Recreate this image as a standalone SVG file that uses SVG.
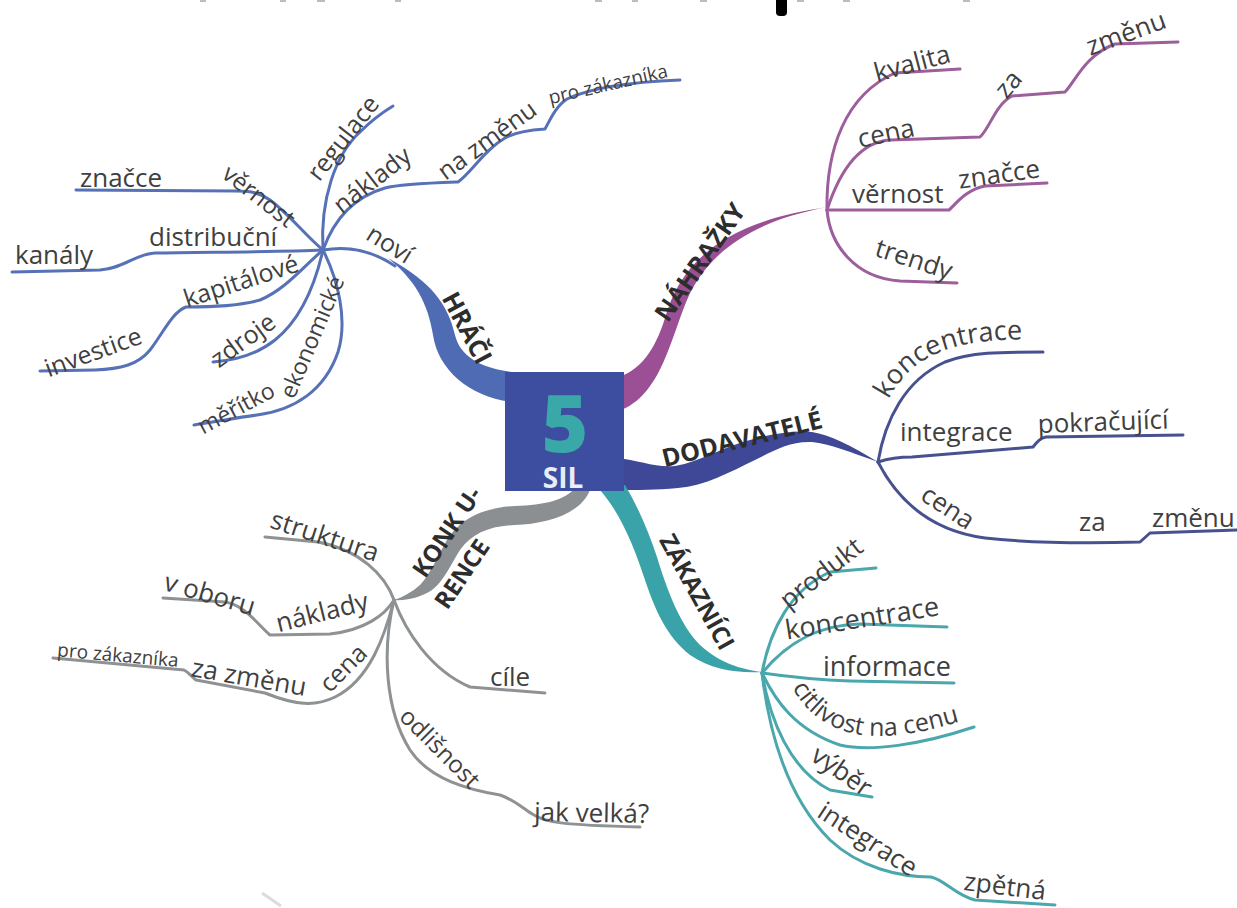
<svg xmlns="http://www.w3.org/2000/svg" width="1237" height="908" viewBox="0 0 1237 908">
<style>
.t{font-family:"Open Sans","Noto Sans","DejaVu Sans",sans-serif;font-size:26px;fill:#404040}
.s{font-size:19px}
.b{font-weight:700;fill:#2d2d2d;font-size:25px}
.c{text-anchor:middle}
.ln{fill:none;stroke-width:3;stroke-linecap:round;stroke-linejoin:round}
.bl{stroke:#5671b6}.pu{stroke:#9d5e9c}.nv{stroke:#48518f}.te{stroke:#4aa7ad}.gr{stroke:#8e9294}
</style>
<defs>
<path id="pk1" d="M886,405 C897,380 918,357 955,347 C980,340 1010,339 1050,339"/>
<path id="pc1" d="M791,686 C804,709 823,729 862,735 C896,739 930,731 975,717"/>
</defs>
<rect width="1237" height="908" fill="#ffffff"/>
<g id="title-remnant" fill="#bdbdbd">
<rect x="200" y="0" width="6" height="2"/><rect x="280" y="0" width="6" height="2"/><rect x="317" y="0" width="8" height="2"/><rect x="395" y="0" width="6" height="2"/><rect x="595" y="0" width="7" height="2"/><rect x="632" y="0" width="6" height="2"/><rect x="700" y="0" width="7" height="2"/><rect x="797" y="0" width="7" height="2"/><rect x="843" y="0" width="7" height="2"/><rect x="963" y="0" width="7" height="2"/>
<path d="M776,0 L787,0 L787,12 Q787,16 783,16 L780,16 Q776,16 776,12 Z" fill="#000"/>
</g>
<line x1="262" y1="893" x2="281" y2="906" stroke="#dcdcdc" stroke-width="3"/>
<g id="connectors">
<path fill="#4e6bb4" d="M512,372 C480,368 460,356 455,335 C448,305 432,282 388,258 C415,280 428,303 433,335 C438,370 470,397 512,402 Z"/>
<path fill="#9b4f95" d="M615,378 C640,372 655,350 665,318 C680,265 720,222 828,207 C745,222 705,258 687,300 C670,340 660,400 615,412 Z"/>
<path fill="#3e4896" d="M615,458 C640,460 655,468 675,466 C700,462 725,446 750,440 C775,433 795,430 812,432 C830,435 850,445 878,462 C850,452 830,444 812,442 C790,441 775,450 755,460 C730,472 705,486 678,488 C655,490 640,490 615,490 Z"/>
<path fill="#3aa3aa" d="M625,485 C637,505 648,530 657,557 C667,590 680,625 700,645 C720,663 740,669 762,672 C735,673 712,670 690,655 C667,637 655,610 645,580 C635,550 622,515 600,490 Z"/>
<path fill="#8b8f91" d="M575,488 C565,500 545,505 515,506 C480,508 460,520 447,540 C438,555 430,575 420,585 C412,592 403,597 394,600 C405,601 420,598 432,590 C445,580 452,562 460,550 C472,533 490,526 515,525 C545,524 580,515 590,490 Z"/>
<path class="ln bl" d="M323,250 C345,246 370,249 395,266"/>
<path class="ln bl" d="M323,250 C320,200 335,155 360,132 C372,120 383,112 393,106"/>
<path class="ln bl" d="M323,250 C332,225 350,198 385,188 C400,184 430,183 458,182 C472,172 484,150 505,138 C515,132 530,130 545,129 C550,120 556,106 567,99 C590,88 630,82 680,80"/>
<path class="ln bl" d="M323,250 C305,235 290,215 270,200 C258,192 250,191 235,191 L76,190"/>
<path class="ln bl" d="M323,250 C280,252 200,252 155,253 C135,254 125,268 100,270 L12,272"/>
<path class="ln bl" d="M323,250 C305,265 285,290 260,300 C240,306 210,307 186,307 C172,312 162,335 150,350 C138,365 120,369 95,370 L40,371"/>
<path class="ln bl" d="M323,250 C315,285 300,320 275,340 C260,352 240,360 213,362"/>
<path class="ln bl" d="M323,250 C338,280 348,320 338,352 C325,390 295,410 257,415 C235,418 215,422 194,425"/>
<path class="ln pu" d="M827,210 C826,150 845,95 895,73 L960,69"/>
<path class="ln pu" d="M827,210 C840,170 860,142 890,140 L980,137 C990,128 995,105 1012,96 L1065,92 C1075,82 1085,55 1115,44 L1178,42"/>
<path class="ln pu" d="M827,210 L949,210 C955,205 965,190 985,186 L1047,183"/>
<path class="ln pu" d="M827,210 C830,245 855,278 900,281 L957,283"/>
<path class="ln nv" d="M878,462 C885,420 905,380 945,362 C970,352 1000,352 1043,352"/>
<path class="ln nv" d="M878,462 C890,458 900,457 912,457 L1033,447 C1037,442 1040,438 1046,437 L1183,435"/>
<path class="ln nv" d="M878,462 C895,495 925,530 985,538 C1030,543 1100,543 1140,542 L1150,533 L1237,530"/>
<path class="ln te" d="M762,673 C770,630 790,590 830,572 L876,568"/>
<path class="ln te" d="M762,673 C785,645 815,625 860,624 L947,627"/>
<path class="ln te" d="M762,673 C790,677 820,680 850,681 L954,683"/>
<path class="ln te" d="M762,673 C775,700 795,730 840,745 C870,752 920,745 974,727"/>
<path class="ln te" d="M762,673 C770,720 790,770 830,790 L872,797"/>
<path class="ln te" d="M762,673 C770,740 790,800 830,840 C860,868 900,877 931,877 C945,880 955,895 975,900 L1055,905"/>
<path class="ln gr" d="M394,600 C385,575 360,550 318,542 L265,537"/>
<path class="ln gr" d="M394,600 C385,615 365,630 330,634 L270,635 C258,625 245,605 225,602 L163,598"/>
<path class="ln gr" d="M394,600 C385,635 370,680 335,697 C315,707 295,705 265,693 L196,680 C190,675 188,672 184,670 L53,658"/>
<path class="ln gr" d="M394,600 C405,630 430,670 470,687 L545,693"/>
<path class="ln gr" d="M394,600 C382,650 385,710 410,750 C430,780 470,790 500,795 C515,800 525,810 534,815 C545,822 560,825 640,827"/>
</g>
<g id="center">
<rect x="505" y="372" width="119" height="119" fill="#3d4ea0"/>
<text class="t c" x="565" y="452" style="font-size:80px;font-weight:800;fill:#3aa8a8">5</text>
<text class="t c" x="563" y="488" style="font-size:28px;font-weight:700;fill:#e9eef6">SIL</text>
</g>
<g id="hraci">
<text class="t b c" dy=".35em" transform="translate(467 328) rotate(62)">HRÁČI</text>
<text class="t c" dy=".35em" transform="translate(343 138) rotate(-52)" style="font-size:25px">regulace</text>
<text class="t" x="80" y="187">značce</text>
<text class="t c" dy=".35em" transform="translate(259 196) rotate(38)" style="font-size:24px">věrnost</text>
<text class="t c" dy=".35em" transform="translate(372 180) rotate(-38)" style="font-size:25px">náklady</text>
<text class="t c" dy=".35em" transform="translate(487 140) rotate(-36)" style="font-size:25px">na změnu</text>
<text class="t s c" dy=".35em" transform="translate(608 84) rotate(-13)">pro zákazníka</text>
<text class="t" x="149" y="246">distribuční</text>
<text class="t" x="15" y="264">kanály</text>
<text class="t c" dy=".35em" transform="translate(390 244) rotate(32)" style="font-size:25px">noví</text>
<text class="t c" dy=".35em" transform="translate(241 281) rotate(-18)" style="font-size:25px">kapitálové</text>
<text class="t c" dy=".35em" transform="translate(93 352) rotate(-20)" style="font-size:25px">investice</text>
<text class="t c" dy=".35em" transform="translate(243 340) rotate(-36)" style="font-size:25px">zdroje</text>
<text class="t c" dy=".35em" transform="translate(312 337) rotate(-67)" style="font-size:23px">ekonomické</text>
<text class="t c" dy=".35em" transform="translate(236 408) rotate(-28)" style="font-size:23px">měřítko</text>
</g>
<g id="nahrazky">
<text class="t b c" dy=".35em" transform="translate(700 262) rotate(-55)">NÁHRAŽKY</text>
<text class="t c" dy=".35em" transform="translate(912 63) rotate(-15)">kvalita</text>
<text class="t c" dy=".35em" transform="translate(886 133) rotate(-12)">cena</text>
<text class="t c" dy=".35em" transform="translate(1008 84) rotate(-50)">za</text>
<text class="t c" dy=".35em" transform="translate(1126 33) rotate(-20)">změnu</text>
<text class="t" x="852" y="203">věrnost</text>
<text class="t c" dy=".35em" transform="translate(999 174) rotate(-8)">značce</text>
<text class="t c" dy=".35em" transform="translate(914 259) rotate(18)">trendy</text>
</g>
<g id="dodavatele">
<text class="t b c" dy=".35em" transform="translate(742 439) rotate(-14)">DODAVATELÉ</text>
<text class="t" style="font-size:27px"><textPath href="#pk1" startOffset="6">koncentrace</textPath></text>
<text class="t" x="900" y="441">integrace</text>
<text class="t" transform="rotate(-2 1038 433)" x="1038" y="433">pokračující</text>
<text class="t c" dy=".35em" transform="translate(948 507) rotate(33)">cena</text>
<text class="t" x="1079" y="531">za</text>
<text class="t" x="1152" y="527">změnu</text>
</g>
<g id="zakaznici">
<text class="t b c" dy=".35em" transform="translate(697 592) rotate(61)" style="font-size:24px">ZÁKAZNÍCI</text>
<text class="t c" dy=".35em" transform="translate(821 573) rotate(-38)">produkt</text>
<text class="t c" dy=".35em" transform="translate(862 618) rotate(-9)" style="font-size:27px">koncentrace</text>
<text class="t" x="823" y="676" style="font-size:27px">informace</text>
<text class="t" style="font-size:25px"><textPath href="#pc1" startOffset="2">citlivost na cenu</textPath></text>
<text class="t c" dy=".35em" transform="translate(842 771) rotate(35)">výběr</text>
<text class="t c" dy=".35em" transform="translate(868 839) rotate(33)">integrace</text>
<text class="t c" dy=".35em" transform="translate(1005 886) rotate(7)">zpětná</text>
</g>
<g id="konkurence">
<text class="t b c" dy=".35em" transform="translate(447 532) rotate(-56)" style="font-size:24px">KONK U-</text>
<text class="t b c" dy=".35em" transform="translate(462 574) rotate(-56)" style="font-size:24px">RENCE</text>
<text class="t c" dy=".35em" transform="translate(325 536) rotate(18)">struktura</text>
<text class="t c" dy=".35em" transform="translate(210 594) rotate(16)">v oboru</text>
<text class="t c" dy=".35em" transform="translate(322 612) rotate(-14)">náklady</text>
<text class="t c" dy=".35em" transform="translate(343 668) rotate(-45)" style="font-size:25px">cena</text>
<text class="t c" dy=".35em" transform="translate(249 677) rotate(10)">za změnu</text>
<text class="t s c" dy=".35em" transform="translate(118 655) rotate(5)">pro zákazníka</text>
<text class="t" x="490" y="686">cíle</text>
<text class="t c" dy=".35em" transform="translate(440 748) rotate(45)" style="font-size:24px">odlišnost</text>
<text class="t" transform="rotate(1 534 821)" x="534" y="821">jak velká?</text>
</g>
</svg>
